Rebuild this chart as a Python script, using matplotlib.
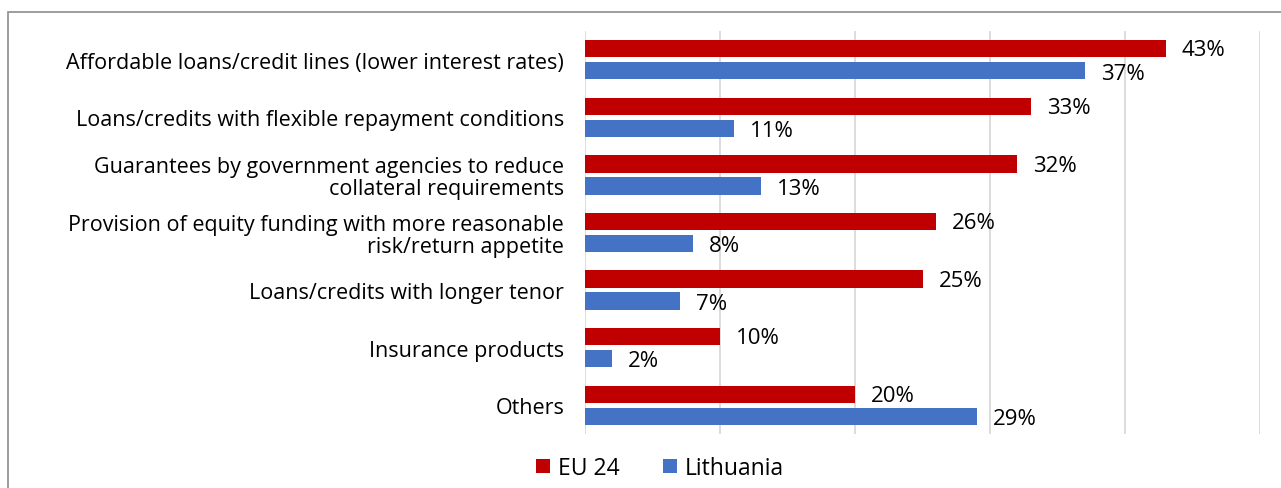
import matplotlib.pyplot as plt
from matplotlib.patches import Rectangle
import numpy as np

plt.rcParams['font.family'] = ['Open Sans', 'DejaVu Sans']

categories = [
    "Affordable loans/credit lines (lower interest rates)",
    "Loans/credits with flexible repayment conditions",
    "Guarantees by government agencies to reduce\ncollateral requirements",
    "Provision of equity funding with more reasonable\nrisk/return appetite",
    "Loans/credits with longer tenor",
    "Insurance products",
    "Others",
]
eu24 = [43, 33, 32, 26, 25, 10, 20]
lithuania = [37, 11, 13, 8, 7, 2, 29]
series_names = ["EU 24", "Lithuania"]
colors = ["#C00000", "#4472C4"]

W, H = 1281, 489
fig = plt.figure(figsize=(W / 100, H / 100), dpi=100)

# outer chart frame
fig.patches.append(Rectangle((8 / W, -0.1), 1.2, (H - 13) / H + 0.1,
                             transform=fig.transFigure, fill=False,
                             edgecolor="#8C8C8C", linewidth=1.2))

ax = fig.add_axes([585 / W, 1 - 435 / H, (1260 - 585) / W, (435 - 32) / H])

y = np.arange(len(categories))
h = 0.30
off = 0.19
ax.barh(y - off, eu24, height=h, color=colors[0], label=series_names[0])
ax.barh(y + off, lithuania, height=h, color=colors[1], label=series_names[1])

fs = 15.5
for yi, v in zip(y, eu24):
    ax.text(v + 1.2, yi - off + 0.02, f"{v}%", va="center", ha="left", fontsize=fs + 0.5)
for yi, v in zip(y, lithuania):
    ax.text(v + 1.2, yi + off + 0.04, f"{v}%", va="center", ha="left", fontsize=fs + 0.5)

ax.set_xlim(0, 50)
ax.set_ylim(len(categories) - 0.5, -0.5)
ax.set_xticks(np.arange(0, 51, 10))
ax.set_xticklabels([])
ax.tick_params(axis="x", length=0)
ax.tick_params(axis="y", length=0, pad=15)
ax.set_yticks(y)
ax.set_yticklabels(categories, fontsize=fs, linespacing=1.05)
ax.grid(axis="x", color="#D9D9D9", linewidth=1.3)
ax.set_axisbelow(True)
for s in ax.spines.values():
    s.set_visible(False)

fig.legend(loc="center", bbox_to_anchor=(660 / W, 1 - 469 / H), ncol=2,
           frameon=False, fontsize=16.5, handlelength=0.6, handleheight=0.6,
           handletextpad=0.35, columnspacing=1.9)

fig.savefig("out.png", dpi=100)
